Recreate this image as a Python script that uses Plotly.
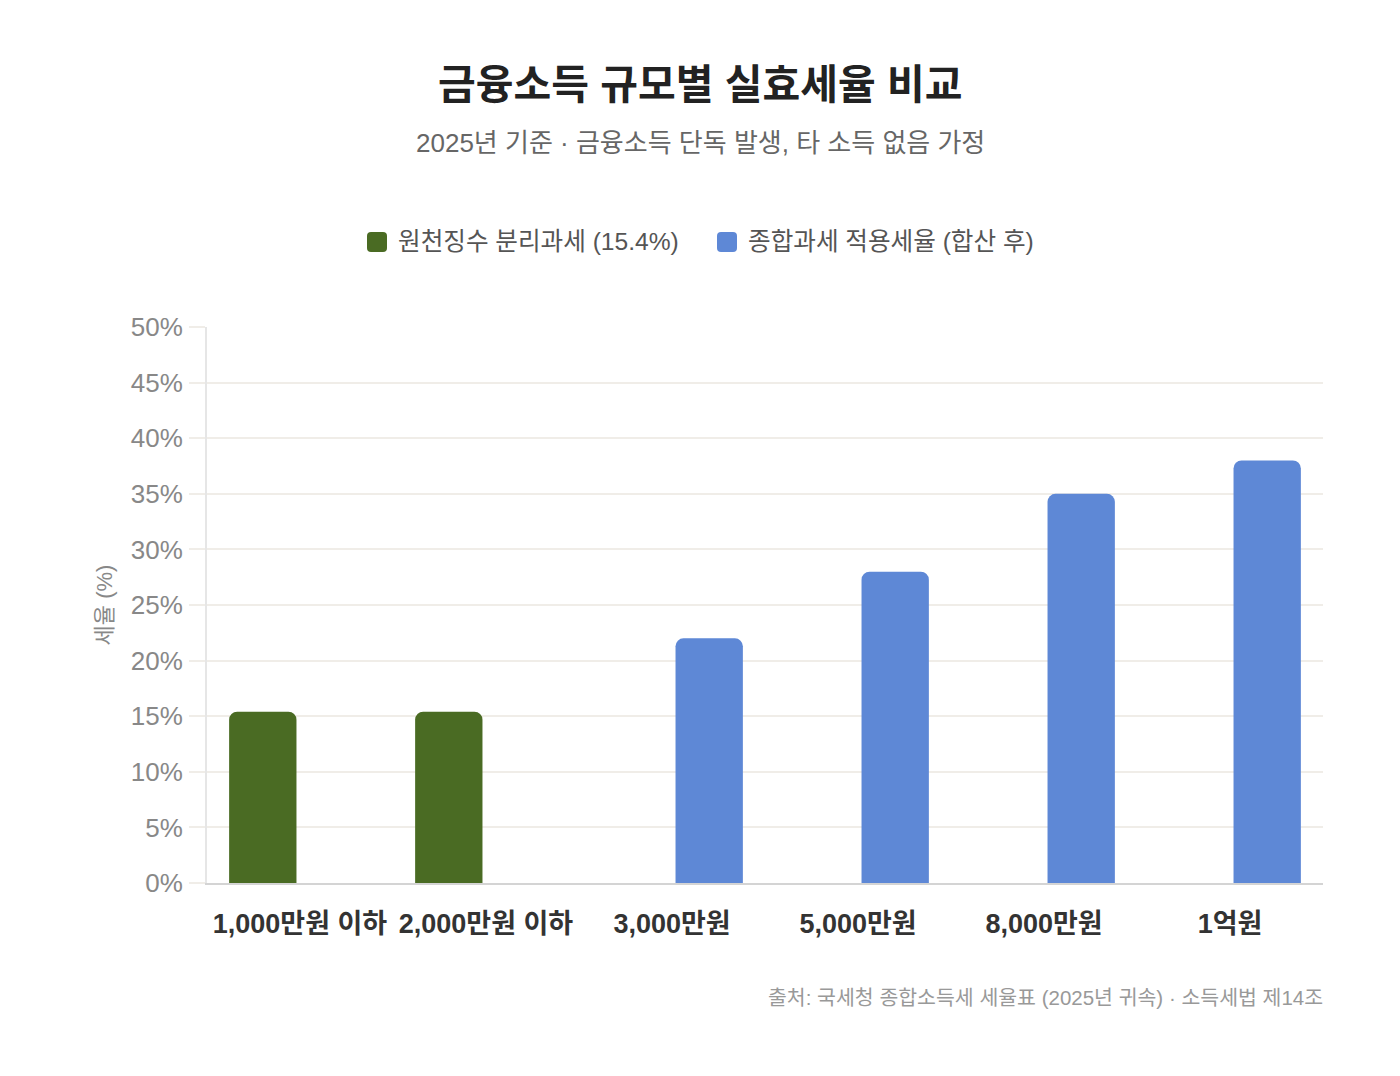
import plotly.graph_objects as go

categories = ["1,000만원 이하", "2,000만원 이하", "3,000만원", "5,000만원", "8,000만원", "1억원"]
separate_tax = [15.4, 15.4, None, None, None, None]
combined_tax = [None, None, 22, 28, 35, 38]
series_names = ["원천징수 분리과세 (15.4%)", "종합과세 적용세율 (합산 후)"]
series_colors = ["#4a6b23", "#5e88d6"]

FONT = "Liberation Sans, Noto Sans CJK KR, sans-serif"

W, H = 1400, 1076
L, R, T, B = 207, 77, 327, 193
plot_w = W - L - R
plot_h = H - T - B

def px_x(pix):
    return (pix - L) / plot_w

def px_y(pix):
    return (H - B - pix) / plot_h

fig = go.Figure()
fig.add_trace(go.Bar(x=categories, y=separate_tax, name=series_names[0],
                     marker=dict(color=series_colors[0], line=dict(width=0))))
fig.add_trace(go.Bar(x=categories, y=combined_tax, name=series_names[1],
                     marker=dict(color=series_colors[1], line=dict(width=0))))

# custom legend (rounded squares + labels)
sq = "M -6,-10 L 6,-10 Q 10,-10 10,-6 L 10,6 Q 10,10 6,10 L -6,10 Q -10,10 -10,6 L -10,-6 Q -10,-10 -6,-10 Z"
legend_sq_x = [377, 727]
legend_txt_x = [396, 746]
shapes = []
annotations = []
for i in range(2):
    shapes.append(dict(type="path", path=sq, xref="paper", yref="paper",
                       xsizemode="pixel", ysizemode="pixel",
                       xanchor=px_x(legend_sq_x[i]), yanchor=px_y(242),
                       fillcolor=series_colors[i], line=dict(width=0)))
    annotations.append(dict(text=series_names[i], x=px_x(legend_txt_x[i]), xref="paper",
                            xanchor="left", y=px_y(241), yref="paper", yanchor="middle",
                            showarrow=False, font=dict(size=24.6, color="#555")))

annotations += [
    dict(text="<b>금융소득 규모별 실효세율 비교</b>", x=px_x(700), xref="paper", xanchor="center",
         y=px_y(85), yref="paper", yanchor="middle", showarrow=False,
         font=dict(size=41, color="#222")),
    dict(text="2025년 기준 · 금융소득 단독 발생, 타 소득 없음 가정", x=px_x(700), xref="paper",
         xanchor="center", y=px_y(143), yref="paper", yanchor="middle", showarrow=False,
         font=dict(size=26, color="#666")),
    dict(text="출처: 국세청 종합소득세 세율표 (2025년 귀속) · 소득세법 제14조", x=px_x(1325), xref="paper",
         xanchor="right", y=px_y(997), yref="paper", yanchor="middle", showarrow=False,
         font=dict(size=20.5, color="#999")),
]

fig.update_layout(
    width=W, height=H,
    paper_bgcolor="white", plot_bgcolor="white",
    margin=dict(l=L, r=R, t=T, b=B),
    barmode="group", bargap=0.2, bargroupgap=0.095,
    barcornerradius=8,
    font=dict(family=FONT, color="#555"),
    showlegend=False,
    xaxis=dict(showgrid=False, showline=True, linecolor="#d4d4d4", linewidth=2,
               tickfont=dict(size=27, color="#333", weight="bold"),
               ticks="", ticklabelstandoff=16),
    yaxis=dict(range=[0, 50], dtick=5, ticksuffix="%", showgrid=True,
               gridcolor="#f0ede8", gridwidth=2, zeroline=False,
               showline=True, linecolor="#e6e6e6", linewidth=2,
               ticks="outside", ticklen=16, tickwidth=2, tickcolor="#f0ede8",
               tickfont=dict(size=26, color="#888"), ticklabelstandoff=1,
               title=dict(text="세율 (%)", font=dict(size=22, color="#888"), standoff=12)),
    shapes=shapes,
    annotations=annotations,
)

fig.write_html("out.html")
